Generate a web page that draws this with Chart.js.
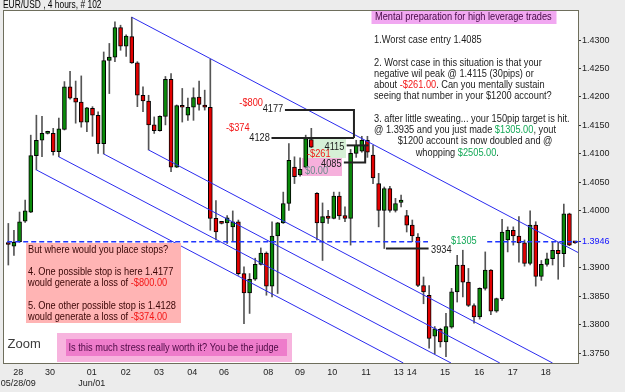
<!DOCTYPE html>
<html>
<head>
<meta charset="utf-8">
<script src="https://cdn.jsdelivr.net/npm/chart.js@4"></script>
<style>
  html, body { margin: 0; padding: 0; background: #ececec; }
  canvas { display: block; }
</style>
</head>
<body>
<canvas id="fxChart" width="625" height="392"></canvas>
<script>
// EUR/USD 4h bars
var opens = [
  1.3944,1.3938,1.3946,1.3982,1.3998,1.4097,1.4124,1.4136,1.4136,1.4104,
  1.4143,1.4218,1.4198,1.4191,1.4156,1.4180,1.4168,1.4118,1.4264,1.4270,
  1.4322,1.4289,1.4306,1.4260,1.4203,1.4193,1.4151,1.4141,1.4166,1.4231,
  1.4077,1.4185,1.4168,1.4182,1.4200,1.4186,1.4182,1.3987,1.3979,1.3979,
  1.3972,1.3981,1.3890,1.3856,1.3880,1.3906,1.3926,1.3868,1.3956,1.3979,
  1.4013,1.4077,1.4063,1.4077,1.4125,1.4031,1.3979,1.3991,1.3987,1.4026,
  1.3992,1.3987,1.4101,1.4105,1.4124,1.4098,1.4048,1.4001,1.4039,1.4001,
  1.4015,1.3992,1.3975,1.3954,1.3869,1.3852,1.3780,1.3792,1.3770,1.3796,
  1.3858,1.3905,1.3875,1.3834,1.3814,1.3864,1.3896,1.3824,1.3846,1.3949,
  1.3966,1.3956,1.3944,1.3908,1.3975,1.3885,1.3906,1.3916,1.3931,1.3925,
  1.3995,1.3945
];
var highs = [
  1.3978,1.3966,1.3998,1.4019,1.4133,1.4168,1.4166,1.4140,1.4145,1.4163,
  1.4227,1.4245,1.4228,1.4237,1.4182,1.4183,1.4174,1.4279,1.4294,1.4332,
  1.4326,1.4309,1.4340,1.4262,1.4218,1.4203,1.4165,1.4167,1.4236,1.4241,
  1.4186,1.4215,1.4198,1.4216,1.4228,1.4212,1.4266,1.4018,1.3980,1.3992,
  1.4000,1.3984,1.3902,1.3890,1.3917,1.3935,1.3928,1.3981,1.3980,1.4033,
  1.4118,1.4095,1.4093,1.4133,1.4145,1.4032,1.4014,1.4001,1.4033,1.4033,
  1.4007,1.4108,1.4124,1.4131,1.4131,1.4115,1.4066,1.4042,1.4043,1.4022,
  1.4028,1.4001,1.3984,1.3960,1.3884,1.3869,1.3797,1.3794,1.3820,1.3864,
  1.3922,1.3931,1.3899,1.3837,1.3865,1.3928,1.3897,1.3847,1.3985,1.3972,
  1.3972,1.3990,1.3949,1.4000,1.3981,1.3913,1.3926,1.3945,1.3945,1.4012,
  1.3996,1.3946
];
var lows = [
  1.3905,1.3922,1.3945,1.3980,1.3997,1.4072,1.4095,1.4135,1.4098,1.4095,
  1.4142,1.4196,1.4154,1.4147,1.4139,1.4131,1.4101,1.4100,1.4206,1.4262,
  1.4282,1.4271,1.4259,1.4183,1.4174,1.4107,1.4136,1.4140,1.4151,1.4069,
  1.4076,1.4156,1.4159,1.4159,1.4177,1.4177,1.3966,1.3949,1.3977,1.3943,
  1.3946,1.3887,1.3802,1.3820,1.3878,1.3905,1.3852,1.3849,1.3855,1.3978,
  1.4001,1.4048,1.4061,1.4076,1.4111,1.3949,1.3913,1.3978,1.3986,1.3985,
  1.3981,1.3940,1.4094,1.4103,1.4094,1.4048,1.3972,1.3934,1.3998,1.3998,
  1.4007,1.3963,1.3946,1.3867,1.3837,1.3759,1.3749,1.3761,1.3744,1.3794,
  1.3840,1.3849,1.3832,1.3803,1.3810,1.3861,1.3818,1.3822,1.3843,1.3928,
  1.3940,1.3910,1.3903,1.3905,1.3868,1.3878,1.3903,1.3905,1.3880,1.3902,
  1.3939,1.3943
];
var closes = [
  1.3941,1.3945,1.3981,1.4000,1.4097,1.4124,1.4136,1.4138,1.4104,1.4144,
  1.4218,1.4198,1.4191,1.4156,1.4181,1.4168,1.4118,1.4264,1.4270,1.4322,
  1.4289,1.4307,1.4260,1.4203,1.4193,1.4151,1.4141,1.4166,1.4231,1.4077,
  1.4185,1.4182,1.4182,1.4199,1.4187,1.4182,1.3987,1.3963,1.3978,1.3988,
  1.3981,1.3890,1.3856,1.3880,1.3906,1.3926,1.3868,1.3956,1.3979,1.4013,
  1.4089,1.4060,1.4073,1.4127,1.4112,1.3979,1.3990,1.3987,1.4026,1.3991,
  1.3987,1.4101,1.4115,1.4124,1.4103,1.4058,1.4001,1.4039,1.4001,1.4013,
  1.4019,1.3975,1.3956,1.3869,1.3858,1.3776,1.3793,1.3770,1.3797,1.3858,
  1.3905,1.3875,1.3834,1.3814,1.3864,1.3896,1.3824,1.3846,1.3963,1.3966,
  1.3956,1.3944,1.3908,1.3975,1.3885,1.3906,1.3916,1.3931,1.3925,1.3995,
  1.3940,1.3944
];

// date labels sit at these bar positions
var dayTicks = [1.78, 7.43, 14.86, 20.92, 26.86, 32.79, 38.44, 46.34, 51.99, 57.74, 63.75, 69.58, 71.89, 77.83, 83.94, 89.89, 95.77];
var dayLabels = [['28', '05/28/09'], '30', ['01', 'Jun/01'], '02', '03', '04', '06', '08', '09', '10', '11', '13', '14', '15', '16', '17', '18'];

var lastPrice = 1.3946;
var priceTicks = [1.3750, 1.3800, 1.3850, 1.3900, lastPrice, 1.4000, 1.4050, 1.4100, 1.4150, 1.4200, 1.4250, 1.4300];

// hand drawn channel lines: [bar, price] start and end
var channelLines = [
  [[22, 1.4340], [101.53, 1.3927]],
  [[25, 1.4107], [97.0, 1.3733]],
  [[17, 1.4100], [87.6, 1.3733]],
  [[9, 1.4095], [78.9, 1.3733]],
  [[5, 1.4072], [70.4, 1.3733]]
];

// stop / entry / target levels
var levelPaths = [
  [[49.3, 1.4177], [61.6, 1.4177], [61.6, 1.4128]],
  [[46.9, 1.4128], [61.6, 1.4128]],
  [[60.3, 1.4115], [64.2, 1.4115]],
  [[59.8, 1.4085], [63.6, 1.4085], [63.6, 1.4115]],
  [[67.3, 1.3934], [74.9, 1.3934]]
];

var FONT = '"Liberation Sans", Arial, sans-serif';
var INK = '#1c1c1c';
var RED = '#f31717';
var GREEN = '#13a957';
var MAROON = '#3a0606';

var notes = [
  {x: 3, y: 5.5, size: 10, parts: [['EUR/USD , 4 hours, # 102', '#000']]},
  {x: 375, y: 17, parts: [['Mental preparation for high leverage trades', '#450845']]},
  {x: 374, y: 40, parts: [['1.Worst case entry 1.4085', INK]]},
  {x: 374, y: 62.7, parts: [['2. Worst case in this situation is that your', INK]]},
  {x: 374, y: 73.7, parts: [['negative wil peak @ 1.4115 (30pips) or', INK]]},
  {x: 374, y: 84.7, parts: [['about ', INK], ['-$261.00', RED], ['. Can you mentally sustain', INK]]},
  {x: 374, y: 96.3, parts: [['seeing that number in your $1200 account?', INK]]},
  {x: 374, y: 118.7, parts: [['3. after little sweating... your 150pip target is hit.', INK]]},
  {x: 374, y: 129.7, parts: [['@ 1.3935 and you just made ', INK], ['$1305.00', GREEN], [', yout', INK]]},
  {x: 397.7, y: 141, parts: [['$1200 account is now doubled and @', INK]]},
  {x: 415.7, y: 153.3, parts: [['whopping ', INK], ['$2505.00', GREEN], ['.', INK]]},
  {x: 28, y: 250, parts: [['But where would you place stops?', MAROON]]},
  {x: 28, y: 271.7, parts: [['4. One possible stop is here 1.4177', MAROON]]},
  {x: 28, y: 282.7, parts: [['would generate a loss of ', MAROON], ['-$800.00', RED]]},
  {x: 28, y: 305.7, parts: [['5. One other possible stop is 1.4128', MAROON]]},
  {x: 28, y: 316.7, parts: [['would generate a loss of ', MAROON], ['-$374.00', RED]]},
  {x: 68.5, y: 347.5, parts: [['Is this much stress really worth it? You be the judge', '#4d0a45']]},
  {x: 7.5, y: 344, size: 13, sx: 1, parts: [['Zoom', '#3c3c3c']]},
  {x: 239.3, y: 102.7, parts: [['-$800', RED]]},
  {x: 262.7, y: 109.3, parts: [['4177', INK]]},
  {x: 226, y: 128.3, parts: [['-$374', RED]]},
  {x: 249.3, y: 137.7, parts: [['4128', INK]]},
  {x: 307, y: 154, parts: [['-$261', RED]]},
  {x: 305, y: 170.7, parts: [['$0.00', '#6b8c8c']]},
  {x: 324.5, y: 146.5, parts: [['4115', INK]]},
  {x: 321, y: 164, parts: [['4085', INK]]},
  {x: 451, y: 241, parts: [['$1305', GREEN]]},
  {x: 431, y: 249.5, parts: [['3934', INK]]}
];

var topBoxes = [
  {x: 371.5, y: 10, w: 185, h: 14, fill: '#f1a8f1'},
  {x: 26, y: 243, w: 155, h: 80, fill: '#ffb4b4'},
  {x: 57, y: 333, w: 235, h: 29, fill: '#f7b4de'},
  {x: 66, y: 339, w: 221, h: 17, fill: '#ee7ccb'},
  {x: 428, y: 236, w: 58, h: 10, fill: '#ffffff'}
];
var underBoxes = [
  {x: 303, y: 139, w: 43, h: 19, fill: '#d6f0d6'},
  {x: 302, y: 158, w: 40, h: 18, fill: '#f6b0dc'}
];

function drawParts(ctx, x, y, parts, size, sx) {
  ctx.save();
  ctx.translate(x, y);
  ctx.scale(sx, 1);
  ctx.font = size + 'px ' + FONT;
  ctx.textBaseline = 'middle';
  ctx.textAlign = 'left';
  var cx = 0;
  for (var k = 0; k < parts.length; k++) {
    ctx.fillStyle = parts[k][1];
    ctx.fillText(parts[k][0], cx, 0);
    cx += ctx.measureText(parts[k][0]).width;
  }
  ctx.restore();
}

function fillBoxes(ctx, list) {
  list.forEach(function (b) {
    ctx.fillStyle = b.fill;
    ctx.fillRect(b.x, b.y, b.w, b.h);
  });
}

var decor = {
  id: 'decor',
  beforeDraw: function (chart) {
    var ctx = chart.ctx, ca = chart.chartArea;
    ctx.save();
    ctx.fillStyle = '#ececec';
    ctx.fillRect(0, 0, chart.width, chart.height);
    ctx.fillStyle = '#ffffff';
    ctx.fillRect(ca.left, ca.top, ca.right - ca.left, ca.bottom - ca.top);
    ctx.restore();
  },
  beforeDatasetsDraw: function (chart) {
    fillBoxes(chart.ctx, underBoxes);
  },
  afterDatasetsDraw: function (chart) {
    var ctx = chart.ctx, ca = chart.chartArea;
    ctx.save();
    fillBoxes(ctx, topBoxes);
    ctx.strokeStyle = '#6e6e5c';
    ctx.lineWidth = 1;
    ctx.strokeRect(ca.left + 0.5, ca.top + 0.5, ca.right - ca.left, ca.bottom - ca.top);
    notes.forEach(function (n) {
      drawParts(ctx, n.x, n.y, n.parts, n.size || 11, n.sx || 0.84);
    });
    ctx.restore();
  }
};

// candles as floating bars: a thin wick plus a body
var wicks = [], upBodies = [], downBodies = [];
for (var i = 0; i < opens.length; i++) {
  wicks.push({x: i, y: [lows[i], highs[i]]});
  var body = {x: i, y: [opens[i], closes[i]]};
  if (closes[i] >= opens[i]) upBodies.push(body); else downBodies.push(body);
}

var datasets = [
  {type: 'bar', data: wicks, backgroundColor: '#555555', borderWidth: 0, barThickness: 1, grouped: false, order: 5},
  {type: 'bar', data: upBodies, backgroundColor: '#0a8a0a', borderColor: '#000000', borderWidth: 1, borderSkipped: false, barThickness: 4, minBarLength: 2, grouped: false, order: 4},
  {type: 'bar', data: downBodies, backgroundColor: '#e30000', borderColor: '#000000', borderWidth: 1, borderSkipped: false, barThickness: 4, minBarLength: 2, grouped: false, order: 4}
];

channelLines.forEach(function (seg) {
  datasets.push({
    type: 'line',
    data: seg.map(function (p) { return {x: p[0], y: p[1]}; }),
    borderColor: '#2b2bef', borderWidth: 1, pointRadius: 0, order: 3
  });
});

datasets.push({
  type: 'line',
  data: [{x: -0.2, y: lastPrice}, {x: 101.53, y: lastPrice}],
  borderColor: '#1f35ff', borderWidth: 1.5, borderDash: [5, 3], pointRadius: 0, order: 3
});

levelPaths.forEach(function (path) {
  datasets.push({
    type: 'line',
    data: path.map(function (p) { return {x: p[0], y: p[1]}; }),
    borderColor: '#222222', borderWidth: 2, pointRadius: 0, order: 2
  });
});

var ctx = document.getElementById('fxChart').getContext('2d');
var fxChart = new Chart(ctx, {
  type: 'bar',
  data: {datasets: datasets},
  options: {
    responsive: false,
    animation: false,
    devicePixelRatio: 1,
    events: [],
    layout: {padding: {left: 3, top: 10, right: 0, bottom: 0}},
    plugins: {legend: {display: false}, tooltip: {enabled: false}, title: {display: false}},
    scales: {
      x: {
        type: 'linear',
        offset: false,
        min: -0.95,
        max: 101.53,
        grid: {display: false, drawTicks: false},
        border: {display: false},
        afterBuildTicks: function (scale) {
          scale.ticks = dayTicks.map(function (v) { return {value: v}; });
        },
        afterFit: function (scale) {
          scale.height = 29;
          scale.paddingLeft = 0;
          scale.paddingRight = 0;
        },
        ticks: {
          autoSkip: false,
          maxRotation: 0,
          padding: 4,
          color: '#222222',
          font: {family: FONT, size: 9},
          callback: function (v, idx) { return dayLabels[idx]; }
        }
      },
      y: {
        type: 'linear',
        position: 'right',
        min: 1.3733,
        max: 1.43527,
        border: {display: false},
        grid: {
          drawOnChartArea: false,
          drawTicks: true,
          tickLength: 3,
          tickColor: function (c) { return c.tick && c.tick.value === lastPrice ? '#1010ff' : '#333333'; }
        },
        afterBuildTicks: function (scale) {
          scale.ticks = priceTicks.map(function (v) { return {value: v}; });
        },
        afterFit: function (scale) {
          scale.width = 47;
          scale.paddingTop = 0;
          scale.paddingBottom = 0;
        },
        ticks: {
          padding: 1,
          font: {family: FONT, size: 9},
          color: function (c) { return c.tick && c.tick.value === lastPrice ? '#1010ff' : '#222222'; },
          callback: function (v) { return v.toFixed(4); }
        }
      }
    }
  },
  plugins: [decor]
});
</script>
</body>
</html>
